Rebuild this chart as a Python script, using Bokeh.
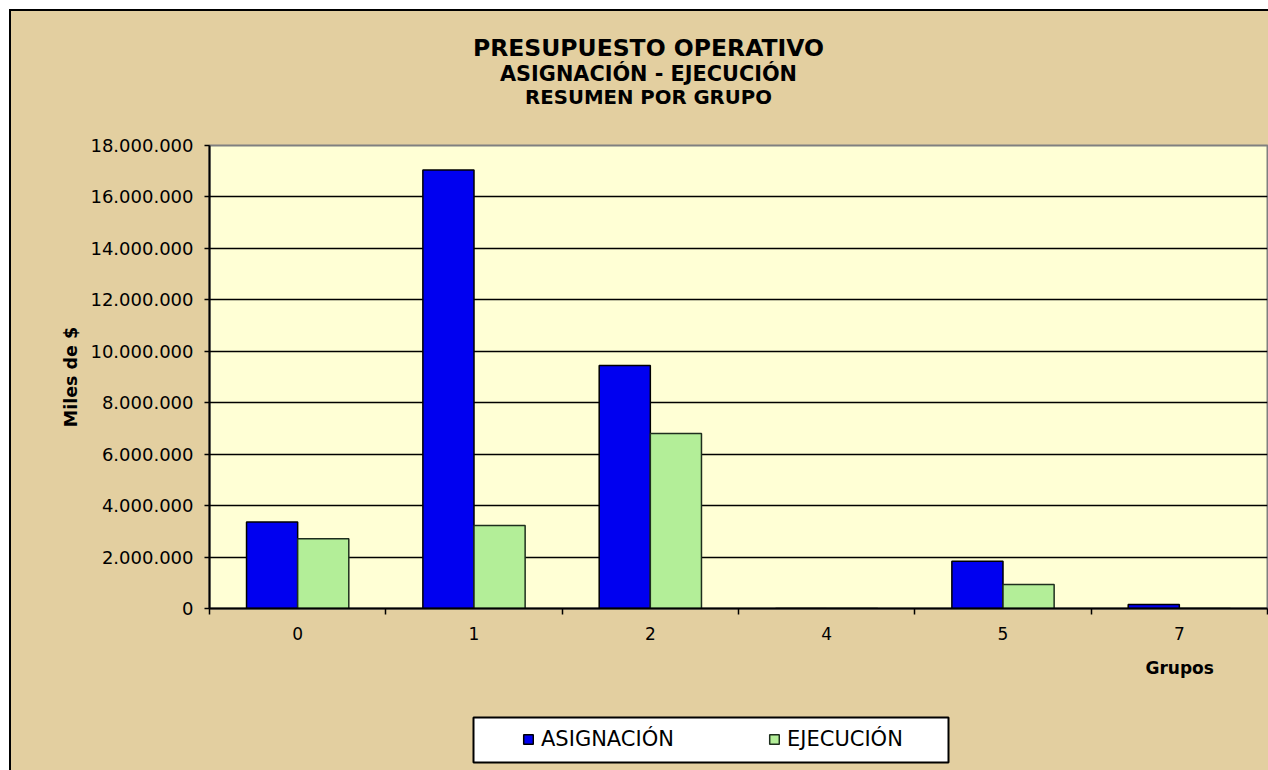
from bokeh.plotting import figure
from bokeh.models import (ColumnDataSource, Range1d, FixedTicker, Legend, LegendItem, Title, Label,
                          BoxAnnotation)
from bokeh.layouts import column
from bokeh.transform import dodge
from bokeh.embed import file_html
from bokeh.resources import INLINE

# ---- data ----
grupos = ["0", "1", "2", "4", "5", "7"]
asignacion = [3360000, 17050000, 9450000, 0, 1840000, 160000]
ejecucion = [2710000, 3230000, 6800000, 0, 930000, 0]
y_ticks = [0, 2000000, 4000000, 6000000, 8000000, 10000000, 12000000, 14000000, 16000000, 18000000]
series = ["ASIGNACIÓN", "EJECUCIÓN"]
title_lines = ["PRESUPUESTO OPERATIVO", "ASIGNACIÓN - EJECUCIÓN", "RESUMEN POR GRUPO"]

FONT = "DejaVu Sans"
BG = "#E3CFA0"
BLUE, BLUE_LINE = "#0000F0", "#000000"
GREEN, GREEN_LINE = "#B3EE98", "#1E2E1E"
W = 1257
H_TOP, H_MAIN, H_LEG = 120, 574, 65

xc = [i + 0.5 for i in range(len(grupos))]
src = ColumnDataSource(dict(x=xc, asig=asignacion, ejec=ejecucion))


def strip(h):
    f = figure(width=W, height=h, output_backend="svg", toolbar_location=None,
               x_axis_type=None, y_axis_type=None, x_range=Range1d(0, 1),
               y_range=Range1d(0, 1), min_border=0)
    f.title = None
    f.outline_line_color = None
    f.background_fill_color = None
    f.border_fill_color = BG
    return f


# ---- title strip ----
pt = strip(H_TOP)
for t, fs, yy in zip(title_lines, ["23.5px", "20.8px", "19.7px"], [84, 58, 34]):
    pt.add_layout(Label(x=439, y=yy, x_units="screen", y_units="screen", text=t,
                        text_font=FONT, text_font_size=fs, text_font_style="bold",
                        text_align="center", text_baseline="middle", text_color="#000000"))

# ---- main chart ----
p = figure(width=W, height=H_MAIN, output_backend="svg", toolbar_location=None,
           x_range=Range1d(0, len(grupos)), y_range=Range1d(0, 18000000),
           min_border_left=198, min_border_right=1, min_border_top=14, min_border_bottom=97)
p.title = None
p.background_fill_color = "#FFFFD5"
p.border_fill_color = BG
p.outline_line_color = "#808080"
p.outline_line_width = 2

p.vbar(x=dodge("x", -0.145), top="asig", width=0.29, source=src,
       fill_color=BLUE, line_color=BLUE_LINE, line_width=1.5)
p.vbar(x=dodge("x", 0.145), top="ejec", width=0.29, source=src,
       fill_color=GREEN, line_color=GREEN_LINE, line_width=1.5)

p.xaxis.ticker = FixedTicker(ticks=xc, minor_ticks=list(range(len(grupos) + 1)))
p.xaxis.major_label_overrides = {x: g for x, g in zip(xc, grupos)}
p.xaxis.major_tick_out = 0
p.xaxis.major_tick_in = 0
p.xaxis.minor_tick_out = 6
p.xaxis.minor_tick_in = 0
p.xaxis.minor_tick_line_color = "#000000"
p.xaxis.minor_tick_line_width = 1.5
p.xaxis.axis_line_color = "#000000"
p.xaxis.axis_line_width = 2
p.xaxis.major_label_text_font = FONT
p.xaxis.major_label_text_font_size = "17px"
p.xaxis.major_label_text_color = "#000000"
p.xaxis.major_label_standoff = 12

p.yaxis.ticker = FixedTicker(ticks=y_ticks)
p.yaxis.major_label_overrides = {v: f"{v:,}".replace(",", ".") for v in y_ticks}
p.yaxis.axis_label = "Miles de $"
p.yaxis.axis_label_text_font = FONT
p.yaxis.axis_label_text_font_size = "17.5px"
p.yaxis.axis_label_text_font_style = "bold"
p.yaxis.axis_label_text_color = "#000000"
p.yaxis.axis_label_standoff = 6
p.yaxis.major_label_text_font = FONT
p.yaxis.major_label_text_font_size = "18px"
p.yaxis.major_label_text_color = "#000000"
p.yaxis.major_label_standoff = 11
p.yaxis.major_tick_out = 5
p.yaxis.major_tick_in = 0
p.yaxis.minor_tick_line_color = None
p.yaxis.axis_line_color = "#000000"
p.yaxis.axis_line_width = 2
p.yaxis.major_tick_line_color = "#000000"
p.yaxis.major_tick_line_width = 1.5

p.xgrid.visible = False
p.ygrid.grid_line_color = "#000000"
p.ygrid.grid_line_width = 1.5

p.add_layout(Title(text="Grupos", align="left", offset=936, standoff=26,
                   text_font=FONT, text_font_size="17px", text_font_style="bold",
                   text_color="#000000"), "below")

# ---- legend strip ----
pl = strip(H_LEG)
pl.add_layout(BoxAnnotation(left=264, right=739, bottom=8, top=53,
                            left_units="screen", right_units="screen",
                            bottom_units="screen", top_units="screen",
                            fill_color="#FFFFFF", fill_alpha=1,
                            line_color="#000000", line_alpha=1, line_width=2))
k1 = pl.vbar(x=dodge("x", -0.145), top="asig", width=0.29, source=src,
             fill_color=BLUE, line_color=BLUE_LINE, line_width=1.5, visible=False)
k2 = pl.vbar(x=dodge("x", 0.145), top="ejec", width=0.29, source=src,
             fill_color=GREEN, line_color=GREEN_LINE, line_width=1.5, visible=False)
legend = Legend(items=[LegendItem(label=series[0], renderers=[k1]),
                       LegendItem(label=series[1], renderers=[k2])],
                orientation="horizontal", location=(313, 19),
                padding=0, margin=0, spacing=87,
                glyph_width=12, glyph_height=12, label_standoff=7, label_height=22,
                label_width=140,
                label_text_font=FONT, label_text_font_size="21px", label_text_color="#000000",
                background_fill_alpha=0, border_line_alpha=0,
                inactive_fill_alpha=0)
pl.add_layout(legend, "center")

layout = column(pt, p, pl, spacing=0)
layout.styles = {"margin-left": "9px", "margin-top": "9px", "background-color": BG,
                 "border-left": "2px solid #000000", "border-top": "2px solid #000000"}

open("out.html", "w").write(file_html(layout, INLINE))
